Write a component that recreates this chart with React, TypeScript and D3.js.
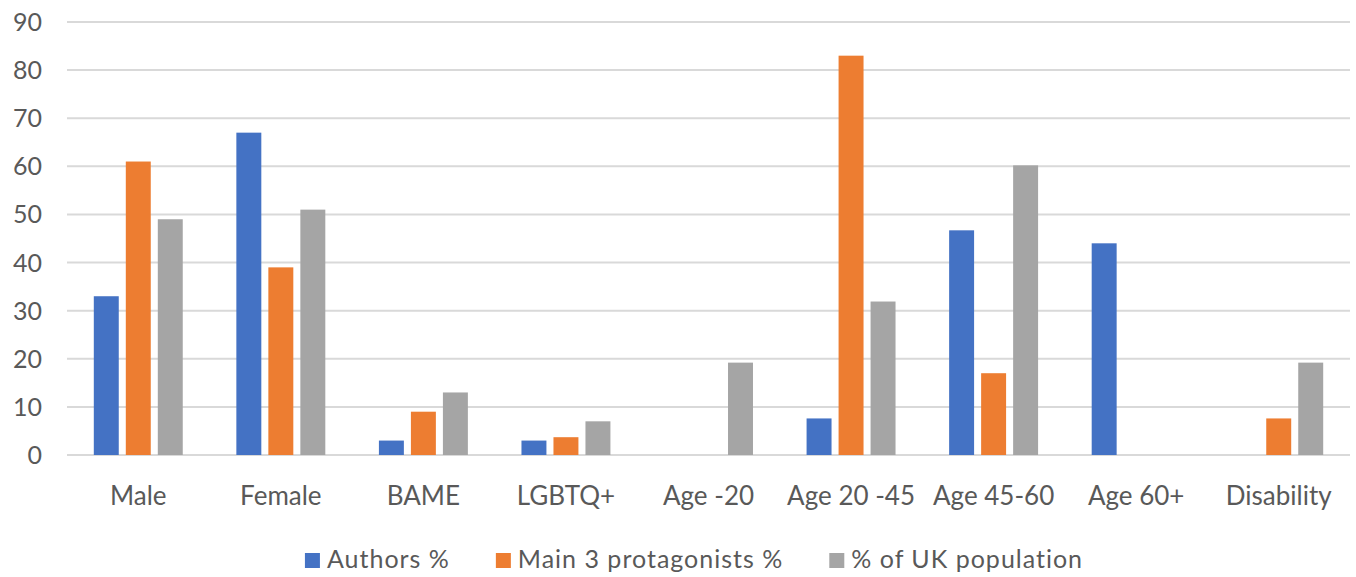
import React, { useEffect, useRef } from 'react';
import * as d3 from 'd3';

const categories: string[] = [
  'Male', 'Female', 'BAME', 'LGBTQ+', 'Age -20', 'Age 20 -45', 'Age 45-60', 'Age 60+', 'Disability',
];
const seriesNames: string[] = ['Authors %', 'Main 3 protagonists %', '% of UK population'];
const authors: number[] = [33, 67, 3, 3, 0, 7.6, 46.7, 44, 0];
const protagonists: number[] = [61, 39, 9, 3.7, 0, 83, 17, 0, 7.6];
const ukPopulation: number[] = [49, 51, 13, 7, 19.2, 31.9, 60.2, 0, 19.2];
const yTicks: number[] = [0, 10, 20, 30, 40, 50, 60, 70, 80, 90];

const colors: string[] = ['#4472C4', '#ED7D31', '#A5A5A5'];

const App: React.FC = () => {
  const chartRef = useRef<SVGSVGElement | null>(null);

  useEffect(() => {
    if (!chartRef.current) return;
    document.body.style.margin = '0';

    const width = 1356;
    const height = 577;
    const left = 67;
    const right = 1350;
    const top = 22;
    const bottom = 455;
    const font = 'Lato, "Open Sans", sans-serif';
    const textColor = '#595959';

    const svg = d3.select(chartRef.current);
    svg.selectAll('*').remove();
    svg.attr('width', width).attr('height', height);

    const series = [authors, protagonists, ukPopulation];

    const x = d3
      .scaleBand<string>()
      .domain(categories)
      .range([left, right])
      .paddingInner(0.376)
      .paddingOuter(0.188);

    const xInner = d3
      .scaleBand<number>()
      .domain([0, 1, 2])
      .range([0, x.bandwidth()])
      .paddingInner(0.22);

    const y = d3.scaleLinear().domain([0, 90]).range([bottom, top]);

    // gridlines
    svg
      .append('g')
      .selectAll('line')
      .data(yTicks)
      .enter()
      .append('line')
      .attr('x1', left)
      .attr('x2', right)
      .attr('y1', (d) => y(d))
      .attr('y2', (d) => y(d))
      .attr('stroke', '#D9D9D9')
      .attr('stroke-width', 2);

    // y tick labels
    svg
      .append('g')
      .selectAll('text')
      .data(yTicks)
      .enter()
      .append('text')
      .text((d) => d)
      .attr('x', 42)
      .attr('y', (d) => y(d))
      .attr('dy', '0.36em')
      .style('text-anchor', 'end')
      .style('font-family', font)
      .style('font-size', '25px')
      .style('fill', textColor);

    // bars
    series.forEach((vals, si) => {
      svg
        .append('g')
        .selectAll('rect')
        .data(vals)
        .enter()
        .append('rect')
        .attr('x', (_, i) => (x(categories[i]) as number) + (xInner(si) as number))
        .attr('width', xInner.bandwidth())
        .attr('y', (d) => y(d))
        .attr('height', (d) => bottom - y(d))
        .attr('fill', colors[si]);
    });

    // x labels
    svg
      .append('g')
      .selectAll('text')
      .data(categories)
      .enter()
      .append('text')
      .text((d) => d)
      .attr('x', (d) => (x(d) as number) + x.bandwidth() / 2)
      .attr('y', 505)
      .style('text-anchor', 'middle')
      .style('font-family', font)
      .style('font-size', '26px')
      .style('fill', textColor);

    // legend
    const legend = svg.append('g');
    const items = legend
      .selectAll('g')
      .data(seriesNames)
      .enter()
      .append('g');
    items
      .append('rect')
      .attr('width', 15)
      .attr('height', 15)
      .attr('y', 553)
      .attr('fill', (_, i) => colors[i]);
    items
      .append('text')
      .text((d) => d)
      .attr('x', 22)
      .attr('y', 568)
      .style('font-family', font)
      .style('font-size', '25px')
      .style('letter-spacing', '1px')
      .style('fill', textColor);

    const widths: number[] = [];
    items.selectAll<SVGTextElement, string>('text').each(function () {
      widths.push(22 + this.getComputedTextLength());
    });
    const gap = 46;
    const total = d3.sum(widths) + gap * (widths.length - 1);
    let cursor = 694 - total / 2;
    items.attr('transform', (_, i) => {
      const tx = cursor;
      cursor += widths[i] + gap;
      return `translate(${tx},0)`;
    });
  }, []);

  return <svg ref={chartRef}></svg>;
};

export default App;
